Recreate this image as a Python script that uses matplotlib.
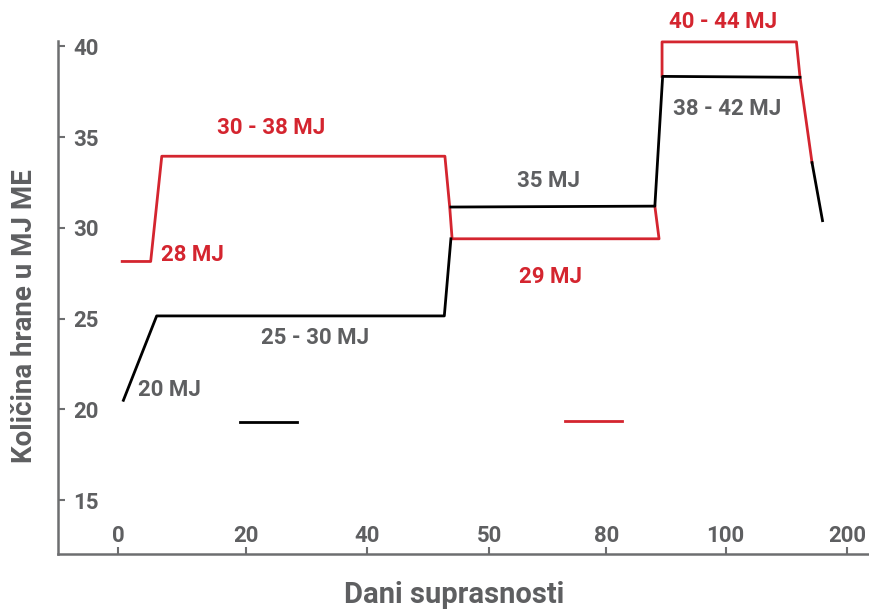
import matplotlib
matplotlib.use("Agg")
import matplotlib.pyplot as plt

plt.rcParams['font.family'] = ['Roboto', 'DejaVu Sans']

RED = '#d4252f'
BLACK = '#000000'
GRAY = '#5e5f61'
AXIS = '#6d6e70'

# x is position along the drawn axis (ticks are not evenly spaced in days)
tick_pos = [0, 21.4, 41.5, 61.9, 81.4, 101.3, 121.5]
tick_labels = ['0', '20', '40', '50', '80', '100', '200']
y_ticks = [15, 20, 25, 30, 35, 40]

red_x1 = [0.7, 5.45, 7.3, 54.5, 55.3, 55.7, 90.2, 89.5]
red_y1 = [28.15, 28.15, 33.95, 33.95, 31.15, 29.4, 29.4, 31.2]
red_x2 = [90.7, 90.7, 113.1, 113.7, 115.7]
red_y2 = [38.35, 40.25, 40.25, 38.3, 33.6]

black_x1 = [0.9, 6.45, 54.4, 55.5]
black_y1 = [20.5, 25.15, 25.15, 29.4]
black_x2 = [55.5, 89.5, 90.8, 113.7]
black_y2 = [31.15, 31.2, 38.35, 38.3]
black_x3 = [115.7, 117.45]
black_y3 = [33.6, 30.4]

key_black_x = [20.3, 29.8]
key_black_y = [19.3, 19.3]
key_red_x = [74.5, 84.0]
key_red_y = [19.35, 19.35]

labels = [
    ("30 - 38 MJ", 25.6, 35.5, RED),
    ("28 MJ", 12.4, 28.5, RED),
    ("40 - 44 MJ", 100.8, 41.35, RED),
    ("38 - 42 MJ", 101.5, 36.55, GRAY),
    ("35 MJ", 71.8, 32.6, GRAY),
    ("29 MJ", 72.1, 27.3, RED),
    ("25 - 30 MJ", 32.8, 23.95, GRAY),
    ("20 MJ", 8.5, 21.05, GRAY),
]

fig = plt.figure(figsize=(8.69, 6.11), dpi=100)
ax = fig.add_axes([58 / 869, 57 / 611, 811 / 869, 513 / 611])

lw = 2.0
ax.plot(red_x1, red_y1, color=RED, lw=lw, clip_on=False)
ax.plot(red_x2, red_y2, color=RED, lw=lw, clip_on=False)
ax.plot(black_x1, black_y1, color=BLACK, lw=lw)
ax.plot(black_x2, black_y2, color=BLACK, lw=lw)
ax.plot(black_x3, black_y3, color=BLACK, lw=lw)
ax.plot(key_black_x, key_black_y, color=BLACK, lw=lw)
ax.plot(key_red_x, key_red_y, color=RED, lw=lw)

for txt, x, y, c in labels:
    ax.text(x, y, txt, color=c, fontsize=16, fontweight='semibold',
            ha='center', va='center', clip_on=False)

ax.set_xlim(-10, 125.2)
ax.set_ylim(12.03, 40.3)

for s in ['top', 'right']:
    ax.spines[s].set_visible(False)
for s in ['left', 'bottom']:
    ax.spines[s].set_color(AXIS)
    ax.spines[s].set_linewidth(1.8)

ax.set_xticks(tick_pos)
ax.set_xticklabels(tick_labels)
ax.set_yticks(y_ticks)
ax.tick_params(axis='x', direction='in', length=5, width=1.5, color=AXIS,
               pad=-21, labelsize=16, labelcolor=GRAY)
ax.tick_params(axis='y', direction='in', length=5, width=1.5, color=AXIS,
               pad=-29, labelsize=16, labelcolor=GRAY)
for t in ax.get_xticklabels() + ax.get_yticklabels():
    t.set_fontweight('semibold')

fig.text(454 / 869, 8 / 611, "Dani suprasnosti", fontsize=21,
         fontweight='bold', color=GRAY, ha='center', va='baseline')
fig.text(32 / 869, 1 - 316 / 611, "Količina hrane u MJ ME", fontsize=20,
         fontweight='bold', color=GRAY, ha='center', va='baseline',
         rotation=90, rotation_mode='anchor')

fig.savefig("out.png", dpi=100)
